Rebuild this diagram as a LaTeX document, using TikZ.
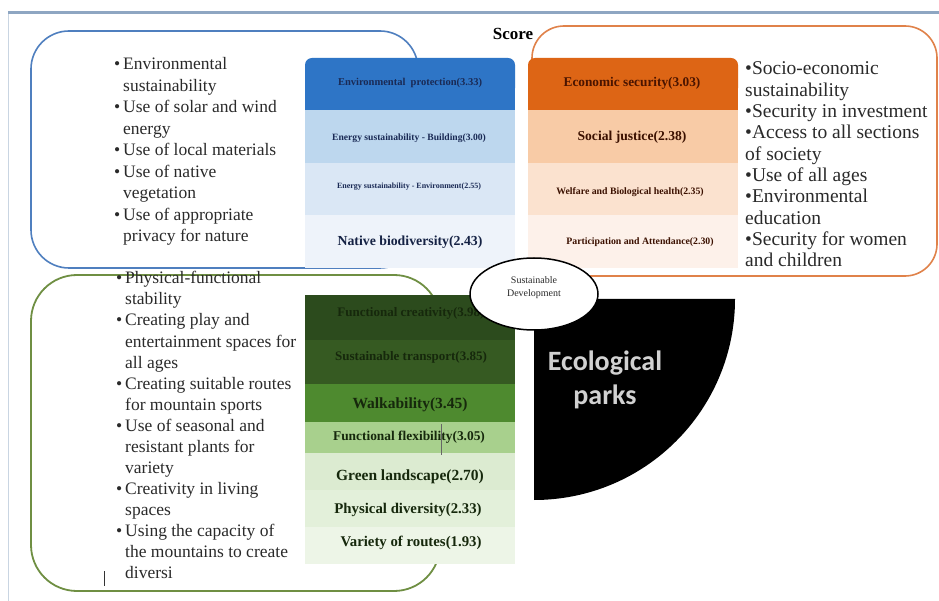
\documentclass[tikz,border=0pt]{standalone}
\usepackage{fontspec}
\setmainfont{Liberation Serif}
\newfontfamily\calib{Carlito}
\usetikzlibrary{shapes.geometric}
\definecolor{framec}{HTML}{8EA6C2}
\definecolor{framel}{HTML}{C9D5E2}
\definecolor{blueline}{HTML}{4F7FBF}
\definecolor{orline}{HTML}{E0824A}
\definecolor{grline}{HTML}{6F8F43}
\definecolor{blueA}{HTML}{2E75C6}
\definecolor{blueB}{HTML}{BDD7EE}
\definecolor{blueC}{HTML}{DAE7F5}
\definecolor{blueD}{HTML}{EEF3FA}
\definecolor{orA}{HTML}{DD6515}
\definecolor{orB}{HTML}{F8CBA6}
\definecolor{orC}{HTML}{FBE2CF}
\definecolor{orD}{HTML}{FDF1EA}
\definecolor{grA}{HTML}{2C4B1D}
\definecolor{grB}{HTML}{365A22}
\definecolor{grC}{HTML}{4E8A2F}
\definecolor{grD}{HTML}{A8D08D}
\definecolor{grE}{HTML}{DCEBD1}
\definecolor{grF}{HTML}{E3F0DA}
\definecolor{grG}{HTML}{EDF5E7}
\definecolor{navy}{HTML}{1A2A55}
\definecolor{dkbrown}{HTML}{4A1400}
\definecolor{dkgreen}{HTML}{16280C}
\definecolor{txt}{HTML}{2A2A2A}
\newcommand\bulL{\makebox[9pt][l]{•}}
\newcommand\indL{\hspace*{9pt}}
\begin{document}
\begin{tikzpicture}[x=1pt,y=-1pt,
  lstL/.style={anchor=base west, inner sep=0, text=txt, font=\fontsize{17.5}{20}\selectfont},
  lstR/.style={anchor=base west, inner sep=0, text=txt, font=\fontsize{19.5}{22}\selectfont},
  rowtxt/.style={inner sep=0, font=\bfseries}]
\useasboundingbox (0,0) rectangle (939,601);
\fill[white] (0,0) rectangle (939,601);
% frame
\draw[framel, line width=1pt] (8,13) -- (8,601);
\draw[framec, line width=3pt] (8,13) -- (939,13);
% rounded boxes
\draw[blueline, line width=1.6pt, rounded corners=38pt] (31,31) rectangle (418,268);
\draw[orline, line width=1.6pt, rounded corners=32pt] (532,26) rectangle (937,276);
\draw[grline, line width=1.8pt, rounded corners=46pt] (31,275) rectangle (440,591);
% title
\node[font=\bfseries\fontsize{17}{20}\selectfont] (score) at (513,34) {Score};
% blue stack
\fill[blueA, rounded corners=7pt] (305,58) rectangle (515,95);
\fill[blueA] (305,80) rectangle (515,110);
\fill[blueB] (305,110) rectangle (515,163);
\fill[blueC] (305,163) rectangle (515,215);
\fill[blueD] (305,215) rectangle (515,268);
\node[rowtxt, text=navy, font=\bfseries\fontsize{10.5}{12}\selectfont] (b1) at (410,83) {Environmental~~protection(3.33)};
\node[rowtxt, text=navy, font=\bfseries\fontsize{9.6}{12}\selectfont] (b2) at (409,138) {Energy sustainability - Building(3.00)};
\node[rowtxt, text=navy, font=\bfseries\fontsize{8}{10}\selectfont] (b3) at (409,187) {Energy sustainability - Environment(2.55)};
\node[rowtxt, text=navy!80!black, font=\bfseries\fontsize{13.8}{16}\selectfont] (b4) at (410,242) {Native biodiversity(2.43)};
% orange stack
\fill[orA, rounded corners=7pt] (528,58) rectangle (738,95);
\fill[orA] (528,80) rectangle (738,110);
\fill[orB] (528,110) rectangle (738,163);
\fill[orC] (528,163) rectangle (738,215);
\fill[orD] (528,215) rectangle (738,268);
\node[rowtxt, text=dkbrown, font=\bfseries\fontsize{13.3}{16}\selectfont] (o1) at (632,83) {Economic security(3.03)};
\node[rowtxt, text=dkbrown!80!black, font=\bfseries\fontsize{13.6}{16}\selectfont] (o2) at (632,137) {Social justice(2.38)};
\node[rowtxt, text=dkbrown!80!black, font=\bfseries\fontsize{9.8}{12}\selectfont] (o3) at (630,192) {Welfare and Biological health(2.35)};
\node[rowtxt, text=dkbrown!80!black, font=\bfseries\fontsize{9.8}{12}\selectfont] (o4) at (640,242) {Participation and Attendance(2.30)};
% green stack
\fill[grA] (305,295) rectangle (515,340);
\fill[grB] (305,340) rectangle (515,384);
\fill[grC] (305,384) rectangle (515,422);
\fill[grD] (305,422) rectangle (515,453);
\fill[grE] (305,453) rectangle (515,490);
\fill[grF] (305,490) rectangle (515,527);
\fill[grG] (305,527) rectangle (515,564);
\node[rowtxt, text=dkgreen, font=\bfseries\fontsize{13}{15}\selectfont] (g1) at (411,313) {Functional creativity(3.98)};
\node[rowtxt, text=dkgreen, font=\bfseries\fontsize{13}{15}\selectfont] (g2) at (411,357) {Sustainable transport(3.85)};
\node[rowtxt, text=dkgreen, font=\bfseries\fontsize{15.5}{18}\selectfont] (g3) at (410,405) {Walkability(3.45)};
\node[rowtxt, text=dkgreen, font=\bfseries\fontsize{13.4}{16}\selectfont] (g4) at (409,437) {Functional flexibility(3.05)};
\node[rowtxt, text=dkgreen, font=\bfseries\fontsize{15.5}{18}\selectfont] (g5) at (410,477) {Green landscape(2.70)};
\node[rowtxt, text=dkgreen, font=\bfseries\fontsize{14.8}{18}\selectfont] (g6) at (408,510) {Physical diversity(2.33)};
\node[rowtxt, text=dkgreen, font=\bfseries\fontsize{14.8}{18}\selectfont] (g7) at (411,543) {Variety of routes(1.93)};
\draw[black!60, line width=0.8pt] (441,424) -- (441,455);
% ecological parks quarter disc
\fill[black] (534,299) -- (735,299) arc[start angle=0, end angle=90, radius=201] -- cycle;
\node[font=\calib\bfseries\fontsize{28}{34}\selectfont, text=black!18, align=center] (eco) at (605,380) {Ecological\\parks};
% sustainable development ellipse
\node[ellipse, draw=black, line width=1.5pt, fill=white, minimum width=128pt, minimum height=72pt, inner sep=0] (sd) at (534,294) {};
\node[font=\fontsize{10}{13}\selectfont, align=center, text=txt] (sdt) at (534,288) {Sustainable\\Development};
% left top list
\foreach \t [count=\i] in {\bulL Environmental, \indL sustainability, \bulL Use of solar and wind, \indL energy, \bulL Use of local materials, \bulL Use of native, \indL vegetation, \bulL Use of appropriate, \indL privacy for nature}
  \node[lstL] (tl\i) at (114,{70+21.5*(\i-1)}) {\t};
% left bottom list
\foreach \t [count=\i] in {\bulL Physical-functional, \indL stability, \bulL Creating play and, \indL entertainment spaces for, \indL all ages, \bulL Creating suitable routes, \indL for mountain sports, \bulL Use of seasonal and, \indL resistant plants for, \indL variety, \bulL Creativity in living, \indL spaces, \bulL Using the capacity of, \indL the mountains to create, \indL diversi}
  \node[lstL] (bl\i) at (116,{284+21*(\i-1)}) {\t};
\draw[black!80, line width=0.9pt] (104,571) -- (104,586);
% right list
\foreach \t [count=\i] in {•Socio-economic, sustainability, •Security in investment, •Access to all sections, of society, •Use of all ages, •Environmental, education, •Security for women, and children}
  \node[lstR] (rl\i) at (745,{75+21.3*(\i-1)}) {\t};
\end{tikzpicture}
\end{document}
